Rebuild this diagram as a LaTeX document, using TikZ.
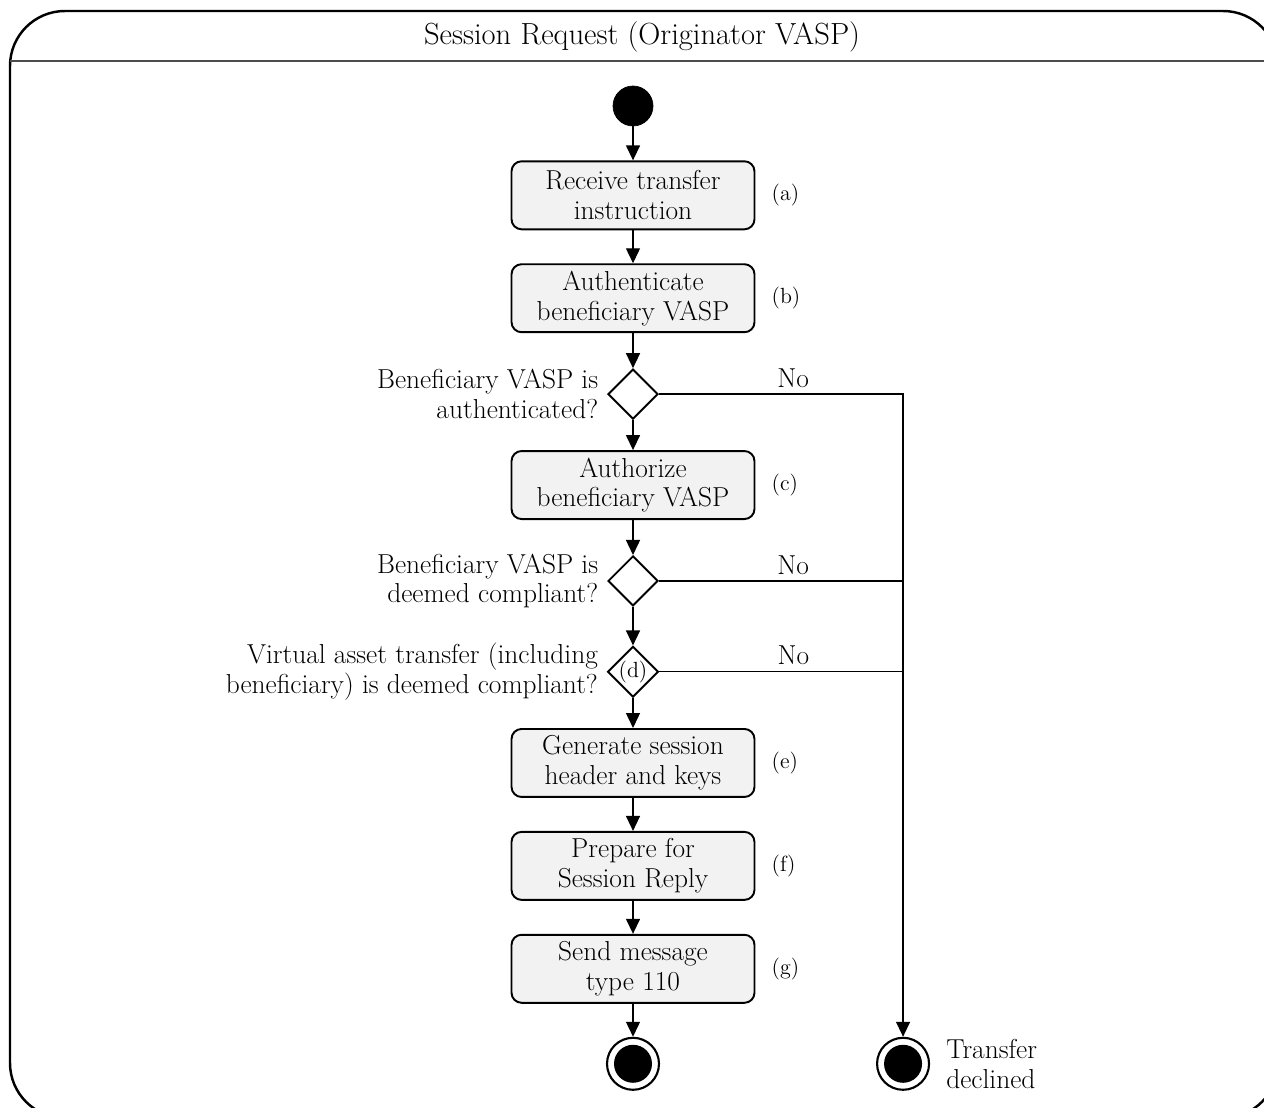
\documentclass[tikz,border=0pt]{standalone}
\usepackage{tikz}
\usetikzlibrary{shapes.geometric, arrows.meta, positioning}
\usepackage{xcolor}

\newcommand{\boxfont}{\fontsize{15.6}{17}\selectfont}
\newcommand{\headfont}{\fontsize{17.4}{19}\selectfont}
\newcommand{\tagfont}{\fontsize{12.5}{14}\selectfont}

\begin{document}
\begin{tikzpicture}[
    x=0.02cm, y=-0.02cm,
    node distance=0.66cm,
    initial/.style={draw, circle, fill=black, minimum size=0.8cm, inner sep=0pt},
    action/.style={draw, rectangle, fill=gray!10, rounded corners=0.2cm, line width=1.1pt, minimum width=4.86cm, minimum height=1.36cm, align=center, font=\boxfont},
    choice/.style={draw, diamond, fill=white, line width=1.1pt, minimum size=1cm, inner sep=0pt, font=\tagfont},
    question/.style={align=right, inner sep=2pt, font=\boxfont},
    tag/.style={font=\tagfont},
    final/.style={draw, circle, fill=white, line width=1.2pt, minimum size=1.04cm, inner sep=0pt, path picture={\fill[black] (path picture bounding box.center) circle (0.38cm);}},
    link/.style={draw, line width=0.8pt},
    arrow/.style={link, -{Triangle[length=0.3cm, width=0.28cm]}}
]

\useasboundingbox (0,0) rectangle (1264,1108);
\clip (0,0) rectangle (1264,1108);

\draw[line width=1.4pt, rounded corners=1.1cm] (10,11) rectangle (1278,1118);
\draw[line width=0.8pt, black!70] (10,61) -- (1278,61);
\node[font=\headfont] (title) at (642,37) {Session Request (Originator VASP)};

\node[initial] (start) at (633,106) {};
\node[action, below=0.68cm of start] (recv) {Receive transfer\\instruction};
\node[action, below=of recv] (auth) {Authenticate\\beneficiary VASP};
\node[choice, below=0.7cm of auth] (isauth) {};
\node[action, below=0.6cm of isauth] (authz) {Authorize\\beneficiary VASP};
\node[choice, below=0.7cm of authz] (iscomp) {};
\node[choice, below=0.77cm of iscomp] (isxfer) {(d)};
\node[action, below=0.6cm of isxfer] (gen) {Generate session\\header and keys};
\node[action, below=of gen] (prep) {Prepare for\\Session Reply};
\node[action, below=of prep] (send) {Send message\\type 110};
\node[final, below=of send] (done) {};
\node[final, right=4.32cm of done] (declined) {};

\node[tag, right=0.2cm of recv] (taga) {(a)};
\node[tag, right=0.2cm of auth] (tagb) {(b)};
\node[tag, right=0.2cm of authz] (tagc) {(c)};
\node[tag, right=0.2cm of gen] (tage) {(e)};
\node[tag, right=0.2cm of prep] (tagf) {(f)};
\node[tag, right=0.2cm of send] (tagg) {(g)};

\node[question, left=0.1cm of isauth] (qauth) {Beneficiary VASP is\\authenticated?};
\node[question, left=0.1cm of iscomp] (qcomp) {Beneficiary VASP is\\deemed compliant?};
\node[question, left=0.1cm of isxfer] (qxfer) {Virtual asset transfer (including\\beneficiary) is deemed compliant?};
\node[align=left, font=\boxfont, right=0.2cm of declined] (nogo) {Transfer\\declined};

\draw[arrow] (start) -- (recv);
\draw[arrow] (recv) -- (auth);
\draw[arrow] (auth) -- (isauth);
\draw[arrow] (isauth) -- (authz);
\draw[arrow] (authz) -- (iscomp);
\draw[arrow] (iscomp) -- (isxfer);
\draw[arrow] (isxfer) -- (gen);
\draw[arrow] (gen) -- (prep);
\draw[arrow] (prep) -- (send);
\draw[arrow] (send) -- (done);
\draw[arrow] (isauth.east) -- node[above, pos=0.55, font=\boxfont] {No} (isauth.east -| declined) -- (declined);
\draw[link] (iscomp.east) -- node[above, pos=0.55, font=\boxfont] {No} (iscomp.east -| declined);
\draw[link] (isxfer.east) -- node[above, pos=0.55, font=\boxfont] {No} (isxfer.east -| declined);

\end{tikzpicture}
\end{document}
